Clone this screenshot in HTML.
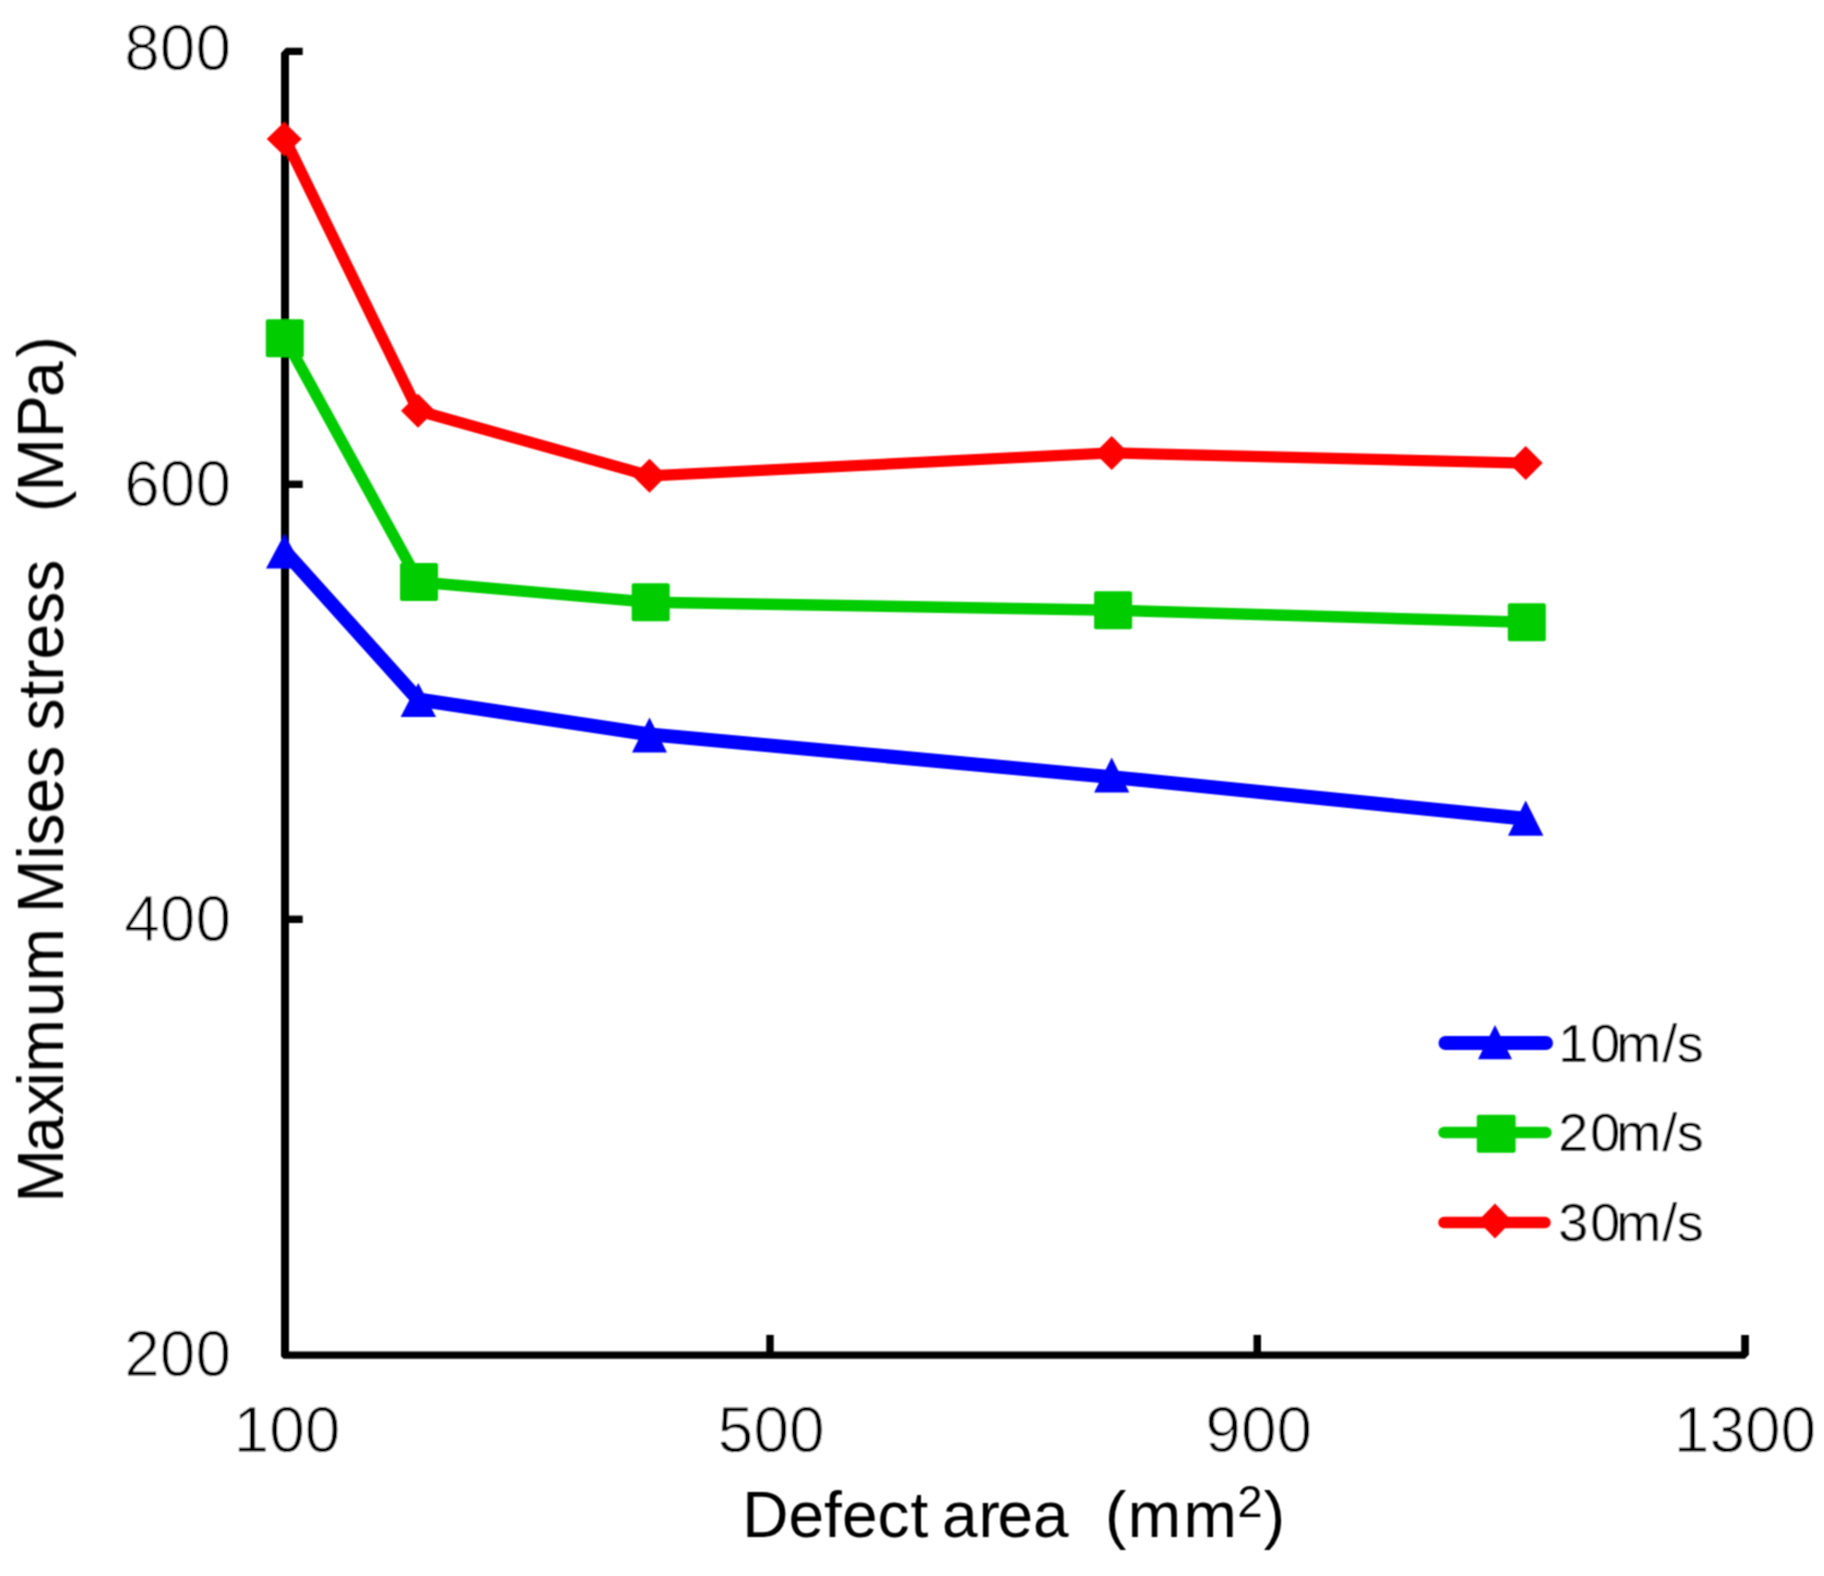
<!DOCTYPE html>
<html>
<head>
<meta charset="utf-8">
<title>Maximum Mises stress vs defect area</title>
<style>
html,body{margin:0;padding:0;background:#fff;}
body{width:1824px;height:1576px;overflow:hidden;}
svg{display:block;}
text{font-family:"Liberation Sans",sans-serif;fill:#000;}
.t{font-size:64px;}
.k{stroke:#fff;stroke-width:0.8px;stroke-linejoin:round;}
.lg{font-size:54px;stroke:#fff;stroke-width:0.3px;stroke-linejoin:round;}
</style>
</head>
<body>
<svg width="1824" height="1576" viewBox="0 0 1824 1576">
<defs><filter id="soft" x="0" y="0" width="1824" height="1576" filterUnits="userSpaceOnUse"><feConvolveMatrix order="3" kernelMatrix="1 2 1 2 4 2 1 2 1" divisor="16" edgeMode="duplicate" preserveAlpha="false"/></filter></defs>
<rect x="0" y="0" width="1824" height="1576" fill="#ffffff"/>
<g filter="url(#soft)">

<!-- axes -->
<g fill="#000">
<path d="M281,53 L286,47.8 L302.7,47.8 L302.7,55.1 L289,55.1 L289,1351.4 L1741.2,1351.4 L1741.2,1334.9 L1748.9,1334.9 L1748.9,1354.8 L1744.9,1358.8 L283.5,1358.8 L281,1356.3 Z"/>
<rect x="285" y="480.6" width="17.7" height="7.4"/>
<rect x="285" y="915.6" width="17.7" height="7.4"/>
<rect x="766.3" y="1334.9" width="7.4" height="20"/>
<rect x="1253.5" y="1334.9" width="7.5" height="20"/>
</g>

<!-- series: 30 m/s red -->
<g>
<polyline points="285,139 418,410.8 649.5,475.8 1111.7,452.9 1525.7,463.1" fill="none" stroke="#ff0000" stroke-width="11.3" stroke-linejoin="round"/>
<g fill="#ff0000">
<polygon points="284.2,122 301.7,139 284.2,156 266.7,139"/>
<polygon points="418,393.8 435,410.8 418,427.8 401,410.8"/>
<polygon points="649.5,458.8 666.5,475.8 649.5,492.8 632.5,475.8"/>
<polygon points="1111.7,435.9 1128.7,452.9 1111.7,469.9 1094.7,452.9"/>
<polygon points="1525.7,446.1 1542.7,463.1 1525.7,480.1 1508.7,463.1"/>
</g>
</g>

<!-- series: 20 m/s green -->
<g>
<polyline points="285,338.3 419,582 650.5,602.3 1113,610.2 1526.8,622.3" fill="none" stroke="#00cc00" stroke-width="11.5" stroke-linejoin="round"/>
<g fill="#00cc00">
<rect x="265.8" y="319.3" width="38" height="38" rx="2"/>
<rect x="400" y="563" width="38" height="38" rx="2"/>
<rect x="631.7" y="583.3" width="38" height="38" rx="2"/>
<rect x="1094.1" y="591.2" width="38" height="38" rx="2"/>
<rect x="1507.8" y="603.3" width="38" height="38" rx="2"/>
</g>
</g>

<!-- series: 10 m/s blue -->
<g>
<polyline points="284.5,551 418.1,699.5 649.6,734.4 1111.8,777.1 1525.8,818.8" fill="none" stroke="#0000ff" stroke-width="14" stroke-linejoin="round"/>
<g fill="#0000ff">
<polygon points="284.5,534 303,568.6 266,568.6"/>
<polygon points="418.3,683 436,717 400.6,717"/>
<polygon points="649.5,717.5 667,752.6 632,752.6"/>
<polygon points="1111.7,757.5 1129.3,792.6 1094.1,792.6"/>
<polygon points="1525.7,800.5 1543.4,835.8 1508,835.8"/>
</g>
</g>

<!-- legend -->
<g>
<line x1="1445.5" y1="1043" x2="1546" y2="1043" stroke="#0000ff" stroke-width="14" stroke-linecap="round"/>
<polygon points="1495,1025 1512,1059.2 1478,1059.2" fill="#0000ff"/>
<line x1="1444" y1="1132.5" x2="1546" y2="1132.5" stroke="#00cc00" stroke-width="11.5" stroke-linecap="round"/>
<rect x="1476.8" y="1114.7" width="38.8" height="38" rx="2" fill="#00cc00"/>
<line x1="1444" y1="1222.5" x2="1545" y2="1222.5" stroke="#ff0000" stroke-width="11.5" stroke-linecap="round"/>
<polygon points="1495,1203.5 1512,1221 1495,1238.5 1478,1221" fill="#ff0000"/>
<text class="lg" x="1558.3 1590.3 1616.2 1662.3 1676.8" y="1062">10m/s</text>
<text class="lg" x="1558.3 1590.3 1616.2 1662.3 1676.8" y="1151.2">20m/s</text>
<text class="lg" x="1558.3 1590.3 1616.2 1662.3 1676.8" y="1241.2">30m/s</text>
</g>

<!-- y tick labels -->
<g class="t k" text-anchor="end">
<text x="231" y="70.2">800</text>
<text x="231" y="505.5">600</text>
<text x="231" y="941">400</text>
<text x="231" y="1376">200</text>
</g>

<!-- x tick labels -->
<g class="t k" text-anchor="middle">
<text x="287" y="1452">100</text>
<text x="771.2" y="1452">500</text>
<text x="1258.7" y="1452">900</text>
<text x="1745" y="1452">1300</text>
</g>

<!-- axis titles -->
<text class="t" x="742.3 788.5 824.1 841.9 877.5 910.5 927.3 942.1 978.6 997.4 1033.0" y="1536.9">Defect area</text>
<text class="t" x="1105 1127.8 1183.6" y="1536.9">(mm<tspan font-size="45" x="1237.4" dy="-20">2</tspan><tspan x="1263.8" dy="20">)</tspan></text>
<text class="t" transform="translate(63,1202.5) rotate(-90)" xml:space="preserve" style="white-space:pre" x="0.0 50.8 86.9 115.9 130.1 185.4 221.0 271.8 289.6 342.9 357.1 389.1 424.7 456.7 472.0 504.0 521.8 543.1 578.7 610.7 642.7 660.5 678.3 690.6 711.1 764.4 805.4 845.0" y="0">Maximum Mises stress   (MPa)</text>
</g>
</svg>
</body>
</html>
